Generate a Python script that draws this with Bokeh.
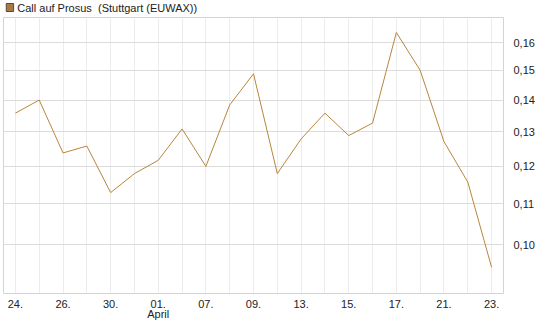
from bokeh.plotting import figure
from bokeh.layouts import column
from bokeh.models import FixedTicker, Range1d, CustomJSTickFormatter
from bokeh.core.properties import value
from bokeh.embed import file_html
from bokeh.resources import INLINE

title_text = "Call auf Prosus \u00a0(Stuttgart (EUWAX))"
dates = ["24.", "25.", "26.", "27.", "30.", "31.", "01.", "02.", "07.", "08.", "09.",
         "10.", "13.", "14.", "15.", "16.", "17.", "20.", "21.", "22.", "23."]
month_label = "April"
month_index = 6
values = [0.1358, 0.1400, 0.1238, 0.1258, 0.1129, 0.1180, 0.1217, 0.1309, 0.1200, 0.1384,
          0.1488, 0.1180, 0.1279, 0.1358, 0.1289, 0.1327, 0.1638, 0.1500, 0.1271, 0.1157,
          0.0949]
y_ticks = [0.10, 0.11, 0.12, 0.13, 0.14, 0.15, 0.16]

FONT = "Liberation Sans"
LINE_COLOR = "#b8863b"
TEXT_COLOR = "#222222"

x = list(range(len(values)))

# ---- header (legend square + title) ----
h = figure(width=545, height=16, output_backend="svg", toolbar_location=None,
           x_range=Range1d(0, 545), y_range=Range1d(16, 0),
           x_axis_location=None, y_axis_location=None,
           min_border=0, min_border_left=0, min_border_right=0,
           min_border_top=0, min_border_bottom=0)
h.outline_line_color = None
h.xgrid.visible = False
h.ygrid.visible = False
h.quad(left=[3], right=[11], top=[3], bottom=[11], fill_color="#a57a45",
       line_color="#5e4a33", line_width=1)
h.text(x=[15], y=[7.5], text=[title_text], text_font=value(FONT), text_font_size="11px",
       text_color=TEXT_COLOR, text_align="left", text_baseline="middle")

# ---- main chart ----
p = figure(width=545, height=311, output_backend="svg", toolbar_location=None,
           y_axis_type="log", y_axis_location="right",
           x_range=Range1d(-0.5, 20.5), y_range=Range1d(0.0893, 0.1696),
           min_border_left=3, min_border_top=1, min_border_right=42, min_border_bottom=34)

p.line(x, values, line_color=LINE_COLOR, line_width=1)

p.outline_line_color = "#d4d4d4"
p.background_fill_color = "white"
p.border_fill_color = "white"

def style_axis(ax, standoff):
    ax.axis_line_color = None
    ax.major_tick_line_color = None
    ax.minor_tick_line_color = None
    ax.major_label_text_font = FONT
    ax.major_label_text_font_size = "11px"
    ax.major_label_text_color = TEXT_COLOR
    ax.major_label_standoff = standoff

labels = {i: dates[i] for i in x[::2]}
labels[month_index] = dates[month_index] + "\n" + month_label

xa = p.xaxis[0]
xa.ticker = FixedTicker(ticks=x[::2])
xa.major_label_overrides = labels
style_axis(xa, -2)
xa.major_label_text_line_height = 0.85

ya = p.yaxis[0]
ya.ticker = FixedTicker(ticks=y_ticks)
ya.formatter = CustomJSTickFormatter(code="return tick.toFixed(2).replace('.', ',');")
style_axis(ya, 4)

p.xgrid.ticker = FixedTicker(ticks=x)
p.xgrid.grid_line_color = "#ececec"
p.ygrid.ticker = FixedTicker(ticks=y_ticks)
p.ygrid.grid_line_color = "#dcdcdc"
p.ygrid.minor_grid_line_color = None

layout = column(h, p, spacing=0)
open("out.html", "w").write(file_html(layout, INLINE))
